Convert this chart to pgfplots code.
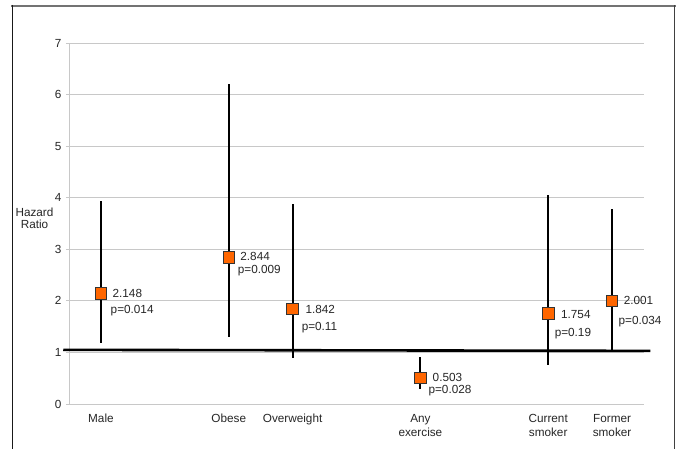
\documentclass[border=0pt]{standalone}
\usepackage{fontspec}
\setmainfont{Liberation Sans}
\usepackage{pgfplots}
\pgfplotsset{compat=1.18}
\definecolor{mkorange}{HTML}{FF6600}
\definecolor{gridgray}{HTML}{C8C8C8}
\newcommand{\lblfont}{\fontsize{11.8}{14.5}\selectfont}
\begin{document}
\begin{tikzpicture}[x=1bp,y=1bp]
\begin{axis}[
 at={(0,0)}, anchor=south west,
 scale only axis, width=575bp, height=361bp,
 xmin=-0.5, xmax=8.5, ymin=0, ymax=7,
 axis x line*=bottom, axis y line*=left,
 axis line style={gridgray, line width=0.8bp},
 ytick={0,...,7}, ymajorgrids, grid style={gridgray, line width=0.8bp},
 xtick={0,2,3,5,7,8},
 xticklabels={Male,Obese,Overweight,{Any\\exercise},{Current\\smoker},{Former\\smoker}},
 xticklabel style={align=center, font=\lblfont, text=black!85, yshift=-3.5bp},
 yticklabel style={font=\lblfont, text=black!85, xshift=-1bp},
 xtick style={draw=none},
 ytick style={gridgray, line width=0.8bp},
 tick align=outside, major tick length=3bp,
 /pgf/number format/assume math mode=true,
 clip=false,
]
\addplot[black, line width=2.6bp] coordinates {(-0.59,1.05) (8.6,1.03)};
\addplot[only marks, mark=square*, mark size=5.8bp,
  mark options={fill=mkorange, draw=black!80, line width=0.8bp},
  error bars/.cd, y dir=both, y explicit,
  error bar style={black, line width=1.8bp}, error mark=none]
coordinates {
(0,2.148) += (0,1.792) -= (0,0.968)
(2,2.844) += (0,3.356) -= (0,1.544)
(3,1.842) += (0,2.028) -= (0,0.957)
(5,0.503) += (0,0.417) -= (0,0.218)
(7,1.754) += (0,2.306) -= (0,0.999)
(8,2.001) += (0,1.789) -= (0,0.971)
};
\begin{scope}[every node/.style={anchor=west, inner sep=0pt, font=\lblfont, text=black!85}]
\node at (axis cs:0.18,2.145) {2.148};
\node at (axis cs:0.15,1.82) {p=0.014};
\node at (axis cs:2.18,2.86) {2.844};
\node at (axis cs:2.14,2.59) {p=0.009};
\node at (axis cs:3.20,1.84) {1.842};
\node at (axis cs:3.14,1.48) {p=0.11};
\node at (axis cs:5.19,0.51) {0.503};
\node at (axis cs:5.125,0.25) {p=0.028};
\node at (axis cs:7.20,1.74) {1.754};
\node at (axis cs:7.10,1.37) {p=0.19};
\node at (axis cs:8.18,2.00) {2.001};
\node at (axis cs:8.10,1.595) {p=0.034};
\end{scope}
\end{axis}
\node[align=center, font=\fontsize{11.8}{12}\selectfont, text=black!85] at (-34.5,186) {Hazard\\Ratio};
\draw[black!55, line width=1.8bp] (-57.5,398) -- (606.5,398);
\draw[black!90, line width=1.6bp] (-56.5,399) -- (-56.5,-50);
\draw[black!75, line width=1.6bp] (605.5,399) -- (605.5,-50);
\pgfresetboundingbox
\useasboundingbox (-69,-45) rectangle (612,404);
\end{tikzpicture}
\end{document}
